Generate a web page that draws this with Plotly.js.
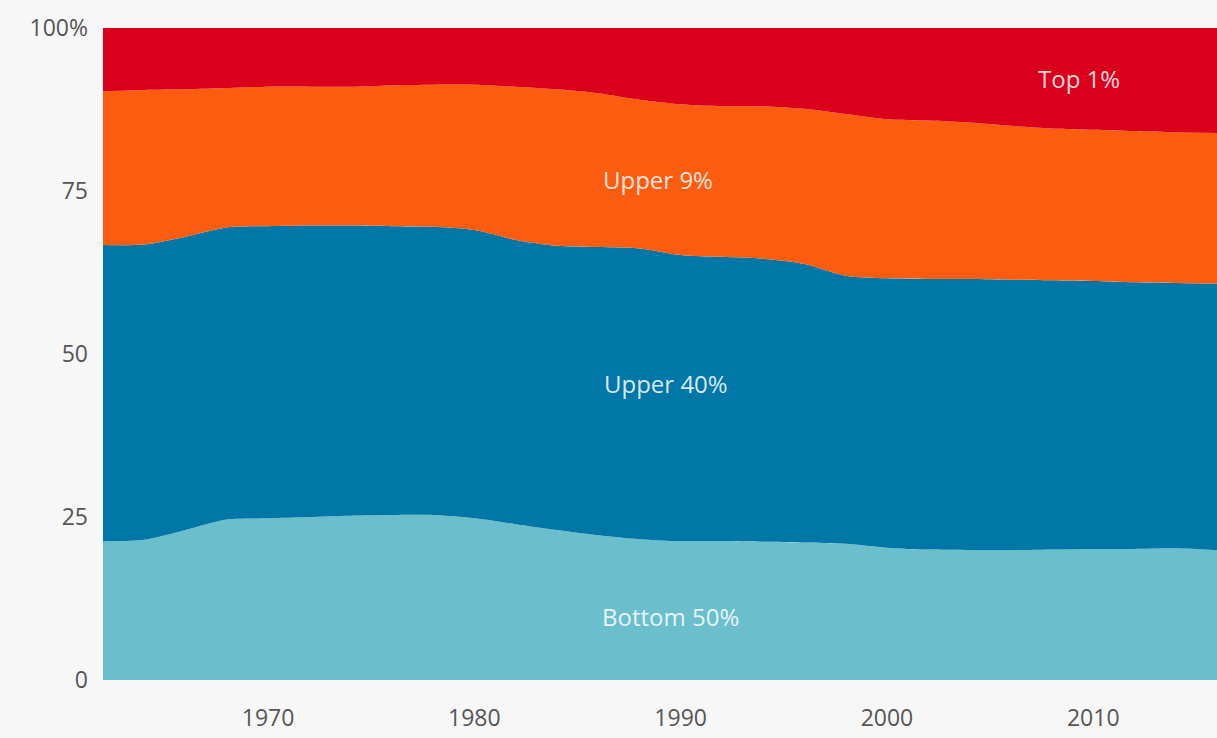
<!DOCTYPE html>
<html>
<head>
<meta charset="utf-8">
<script src="https://cdn.plot.ly/plotly-3.0.1.min.js"></script>
<style>
  html, body { margin: 0; padding: 0; background: #f7f7f7; }
  #chart { width: 1217px; height: 738px; }
</style>
</head>
<body>
<div id="chart"></div>
<script>
// Data (shares of total, %)
const years = [1962,1964,1966,1968,1970,1972,1974,1976,1978,1980,1982,1984,1986,1988,1990,1992,1994,1996,1998,2000,2002,2004,2006,2008,2010,2012,2014,2016];
const bottom50 = [21.3,21.5,23.0,24.6,24.8,25.0,25.2,25.3,25.3,24.8,23.9,23.0,22.2,21.6,21.3,21.3,21.2,21.1,20.9,20.3,20.0,19.9,19.9,20.0,20.1,20.1,20.2,19.9];
const upper40  = [45.4,45.3,45.0,44.8,44.8,44.7,44.5,44.3,44.2,44.2,43.6,43.6,44.2,44.6,43.9,43.6,43.4,42.7,41.1,41.3,41.5,41.6,41.5,41.3,41.1,40.9,40.7,40.9];
const upper9   = [23.6,23.7,22.6,21.4,21.4,21.3,21.3,21.6,21.8,22.3,23.5,24.0,23.6,22.8,23.1,23.1,23.4,23.8,24.8,24.4,24.3,24.0,23.6,23.3,23.2,23.2,23.1,23.1];
const top1     = [9.7,9.5,9.4,9.2,9.0,9.0,9.0,8.8,8.7,8.7,9.0,9.4,10.0,11.0,11.7,12.0,12.0,12.4,13.2,14.0,14.2,14.5,15.0,15.4,15.6,15.8,16.0,16.1];

const seriesNames = ["Bottom 50%", "Upper 40%", "Upper 9%", "Top 1%"];
const seriesColors = ["#6bbfcd", "#0077a6", "#fc5c10", "#da001c"];
const seriesValues = [bottom50, upper40, upper9, top1];

const yTickVals = [0, 25, 50, 75, 100];
const yTickText = ["0", "25", "50", "75", "100%"];
const xTickVals = [1970, 1980, 1990, 2000, 2010];

// label anchor positions (data coords)
const labelX = [1989.5, 1989.3, 1988.9, 2009.3];
const labelY = [9.7, 45.4, 76.7, 92.3];

const traces = seriesNames.map((name, i) => ({
  x: years,
  y: seriesValues[i],
  name: name,
  type: "scatter",
  mode: "lines",
  stackgroup: "one",
  line: { width: 0, shape: "spline", smoothing: 0.8, color: seriesColors[i] },
  fillcolor: seriesColors[i],
  hoverinfo: "x+y+name"
}));

const annotations = seriesNames.map((name, i) => ({
  x: labelX[i], y: labelY[i], xref: "x", yref: "y",
  text: name, showarrow: false,
  font: { family: "Open Sans, sans-serif", size: 24, color: "rgba(255,255,255,0.85)" }
}));

const layout = {
  width: 1217, height: 738,
  margin: { l: 103, r: 0, t: 28, b: 58 },
  paper_bgcolor: "#f7f7f7",
  plot_bgcolor: "#f7f7f7",
  showlegend: false,
  font: { family: "Open Sans, sans-serif", size: 22, color: "#555" },
  xaxis: {
    range: [1962, 2016],
    tickvals: xTickVals,
    showgrid: false, zeroline: false, showline: false,
    ticks: "", ticklabelstandoff: 22,
    tickfont: { size: 23, color: "#555" }
  },
  yaxis: {
    range: [0, 100],
    tickvals: yTickVals,
    ticktext: yTickText,
    showgrid: false, zeroline: false, showline: false,
    ticks: "", ticklabelstandoff: 14,
    tickfont: { size: 23, color: "#555" }
  },
  annotations: annotations
};

Plotly.newPlot("chart", traces, layout, { displayModeBar: false, staticPlot: true });
</script>
</body>
</html>
